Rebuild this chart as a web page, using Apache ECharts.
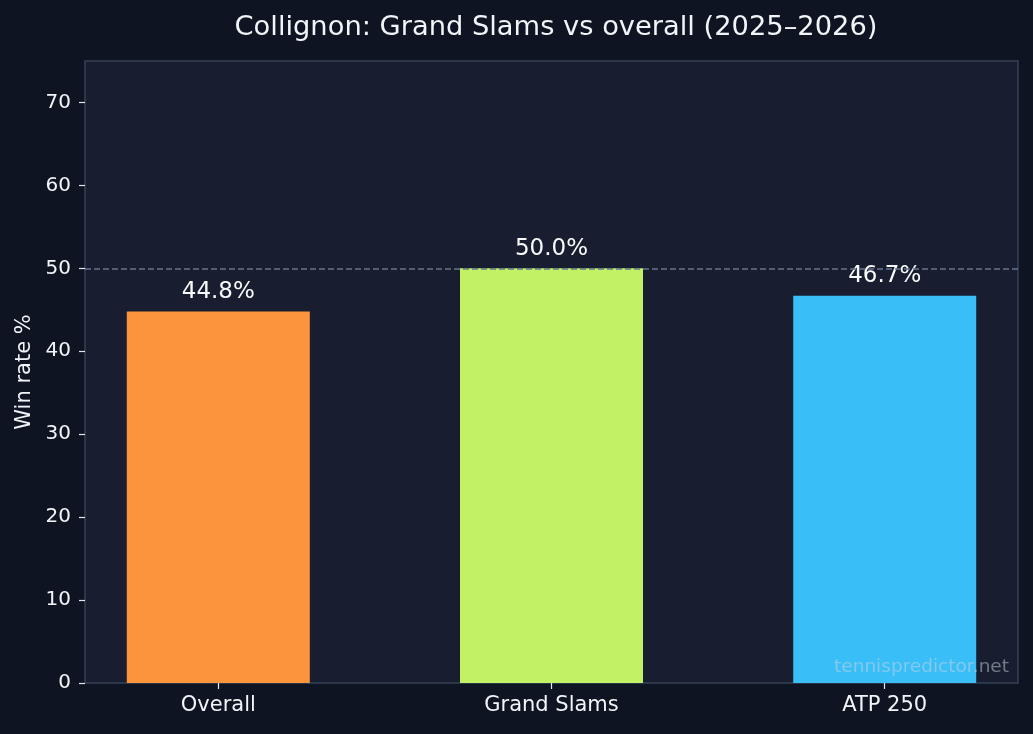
<!DOCTYPE html>
<html>
<head>
<meta charset="utf-8">
<title>Collignon: Grand Slams vs overall</title>
<script src="https://cdn.jsdelivr.net/npm/echarts@6/dist/echarts.min.js"></script>
<style>
  html, body { margin: 0; padding: 0; background: #0e1421; }
  #main { width: 1033px; height: 734px; }
</style>
</head>
<body>
<div id="main"></div>
<script>
// data
var categories = ['Overall', 'Grand Slams', 'ATP 250'];
var winRates = [44.8, 50.0, 46.7];
var barColors = ['#fb943d', '#c2f166', '#39bef8'];
var yTicks = [0, 10, 20, 30, 40, 50, 60, 70];
var refLine = 50;

var positions = categories.map(function (c, i) { return i; });

var chart = echarts.init(document.getElementById('main'));
chart.setOption({
    backgroundColor: '#0e1421',
    textStyle: { fontFamily: 'DejaVu Sans' },
    title: {
        text: 'Collignon: Grand Slams vs overall (2025\u20132026)',
        left: 551,
        textAlign: 'center',
        top: 9,
        textStyle: { color: '#f1f5f9', fontSize: 27.3, fontWeight: 'normal', fontFamily: 'DejaVu Sans' }
    },
    grid: {
        left: 85, right: 15, top: 61, bottom: 51,
        show: true,
        backgroundColor: '#181e2f',
        borderColor: '#334155',
        borderWidth: 1.5
    },
    xAxis: {
        type: 'value',
        min: -0.4,
        max: 2.4,
        splitLine: { show: false },
        axisLine: { show: false, onZero: false },
        axisTick: { show: true, length: 6, lineStyle: { color: '#e2e8f0', width: 1.2 }, customValues: positions },
        axisLabel: {
            customValues: positions,
            color: '#f1f5f9',
            fontSize: 21,
            margin: 12,
            formatter: function (v) { return categories[Math.round(v)] || ''; }
        }
    },
    yAxis: {
        type: 'value',
        min: 0,
        max: 75,
        name: 'Win rate %',
        nameLocation: 'middle',
        nameGap: 50,
        nameTextStyle: { color: '#f1f5f9', fontSize: 21 },
        splitLine: { show: false },
        axisLine: { show: false, onZero: false },
        axisTick: { show: true, length: 6, lineStyle: { color: '#e2e8f0', width: 1.2 }, customValues: yTicks },
        axisLabel: { customValues: yTicks, color: '#f1f5f9', fontSize: 20, margin: 14 }
    },
    series: [{
        type: 'bar',
        barWidth: 183,
        data: winRates.map(function (v, i) {
            return { value: [i, v], itemStyle: { color: barColors[i] } };
        }),
        label: {
            show: true,
            position: 'top',
            distance: 8,
            color: '#f8fafc',
            fontSize: 23,
            formatter: function (p) { return p.value[1].toFixed(1) + '%'; }
        },
        markLine: {
            silent: true,
            symbol: 'none',
            label: { show: false },
            lineStyle: { color: '#64748b', type: [6, 3], width: 1.5 },
            data: [{ yAxis: refLine }]
        }
    }],
    graphic: [{
        type: 'text',
        right: 24,
        bottom: 57,
        z: 100,
        style: {
            text: 'tennispredictor.net',
            fill: 'rgba(203,213,225,0.5)',
            fontSize: 18.5,
            fontFamily: 'DejaVu Sans'
        }
    }]
});
</script>
</body>
</html>
